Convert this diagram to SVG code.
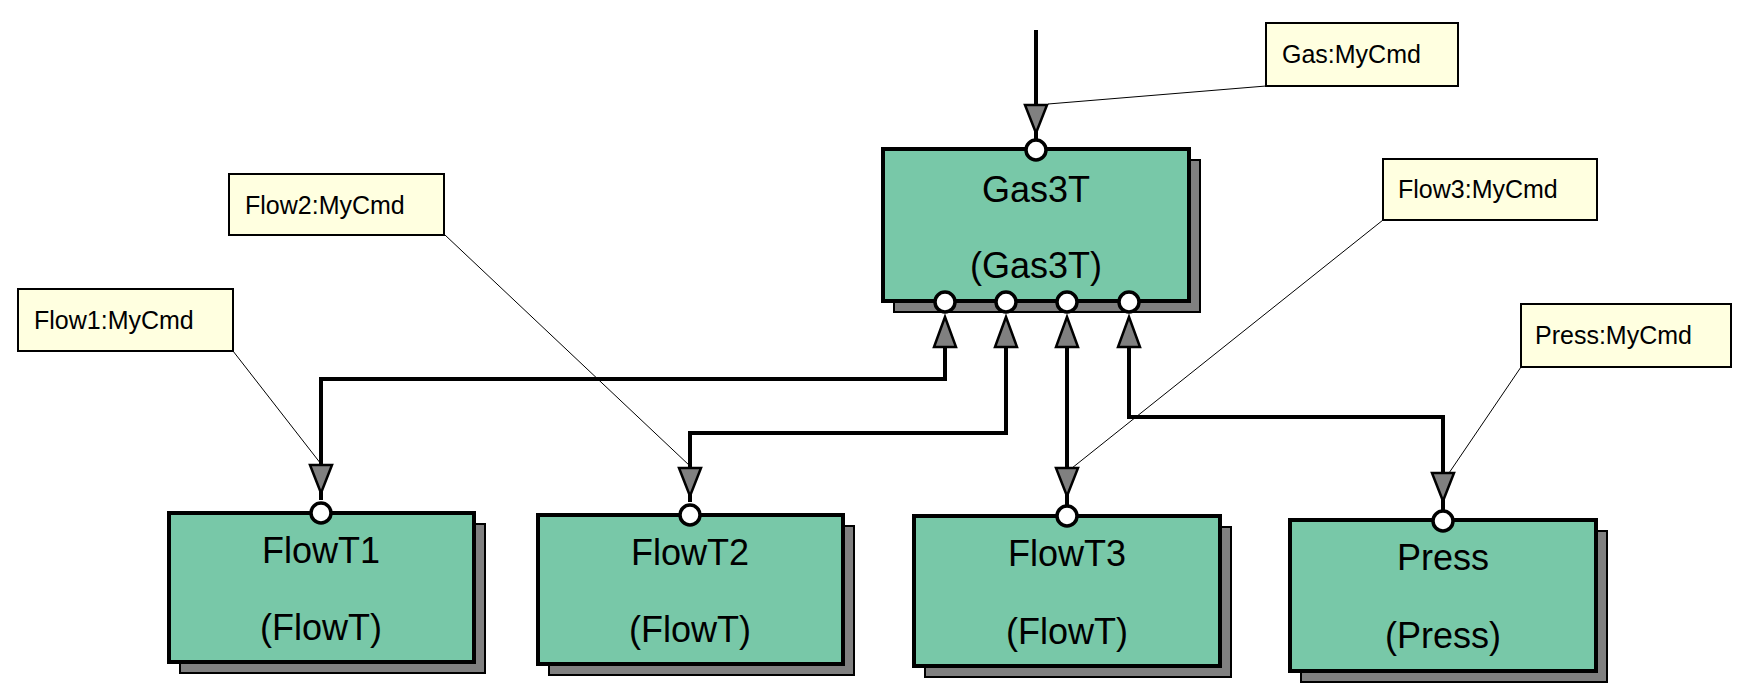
<svg xmlns="http://www.w3.org/2000/svg" width="1752" height="694" viewBox="0 0 1752 694">
<style>
.box{fill:#78c8a8;stroke:#000;stroke-width:4}
.sh{fill:#808080;stroke:#000;stroke-width:2}
.port{fill:#fff;stroke:#000;stroke-width:3.5}
.arr{fill:#808080;stroke:#000;stroke-width:2.5}
.wire{fill:none;stroke:#000;stroke-width:4}
.ln{fill:none;stroke:#000;stroke-width:1}
.lbl{fill:#ffffe0;stroke:#000;stroke-width:2}
.lt{font-family:"Liberation Sans",Arial,sans-serif;font-size:25px;fill:#000}
.nt{font-family:"Liberation Sans",Arial,sans-serif;font-size:36px;fill:#000;text-anchor:middle}
</style>
<rect width="1752" height="694" fill="#fff"/>
<g id="connectors">
<path class="wire" d="M1036 30V140"/>
<path class="wire" d="M945 330V379H321V500"/>
<path class="wire" d="M1006 330V433H690V502"/>
<path class="wire" d="M1067 330V505"/>
<path class="wire" d="M1129 330V417H1443V510"/>
<path class="ln" d="M1048 104L1266 86"/>
<path class="ln" d="M233 351L321 464"/>
<path class="ln" d="M445 235L690 466"/>
<path class="ln" d="M1383 220L1072 468"/>
<path class="ln" d="M1521 367L1449 473"/>
<path class="arr" d="M1025 105H1047L1036 133Z"/>
<path class="arr" d="M310 465H332L321 493Z"/>
<path class="arr" d="M679 468H701L690 496Z"/>
<path class="arr" d="M1056 468H1078L1067 496Z"/>
<path class="arr" d="M1432 473H1454L1443 501Z"/>
<path class="arr" d="M934 347H956L945 317Z"/>
<path class="arr" d="M995 347H1017L1006 317Z"/>
<path class="arr" d="M1056 347H1078L1067 317Z"/>
<path class="arr" d="M1118 347H1140L1129 317Z"/>
</g>
<g id="Gas3T">
<rect class="sh" x="894" y="160" width="306" height="152"/>
<rect class="box" x="883" y="149" width="306" height="152"/>
<text class="nt" x="1036" y="202">Gas3T</text>
<text class="nt" x="1036" y="278">(Gas3T)</text>
<circle class="port" cx="1036" cy="150" r="10"/>
<circle class="port" cx="945" cy="302" r="10"/>
<circle class="port" cx="1006" cy="302" r="10"/>
<circle class="port" cx="1067" cy="302" r="10"/>
<circle class="port" cx="1129" cy="302" r="10"/>
</g>
<g id="FlowT1">
<rect class="sh" x="180" y="524" width="305" height="149"/>
<rect class="box" x="169" y="513" width="305" height="149"/>
<text class="nt" x="321" y="563">FlowT1</text>
<text class="nt" x="321" y="640">(FlowT)</text>
<circle class="port" cx="321" cy="513" r="10"/>
</g>
<g id="FlowT2">
<rect class="sh" x="549" y="526" width="305" height="149"/>
<rect class="box" x="538" y="515" width="305" height="149"/>
<text class="nt" x="690" y="565">FlowT2</text>
<text class="nt" x="690" y="642">(FlowT)</text>
<circle class="port" cx="690" cy="515" r="10"/>
</g>
<g id="FlowT3">
<rect class="sh" x="925" y="527" width="306" height="150"/>
<rect class="box" x="914" y="516" width="306" height="150"/>
<text class="nt" x="1067" y="566">FlowT3</text>
<text class="nt" x="1067" y="644">(FlowT)</text>
<circle class="port" cx="1067" cy="516" r="10"/>
</g>
<g id="Press">
<rect class="sh" x="1301" y="531" width="306" height="151"/>
<rect class="box" x="1290" y="520" width="306" height="151"/>
<text class="nt" x="1443" y="570">Press</text>
<text class="nt" x="1443" y="648">(Press)</text>
<circle class="port" cx="1443" cy="521" r="10"/>
</g>
<g id="label-gas"><rect class="lbl" x="1266" y="23" width="192" height="63"/><text class="lt" x="1282" y="63">Gas:MyCmd</text></g>
<g id="label-flow2"><rect class="lbl" x="229" y="174" width="215" height="61"/><text class="lt" x="245" y="214">Flow2:MyCmd</text></g>
<g id="label-flow1"><rect class="lbl" x="18" y="289" width="215" height="62"/><text class="lt" x="34" y="329">Flow1:MyCmd</text></g>
<g id="label-flow3"><rect class="lbl" x="1383" y="159" width="214" height="61"/><text class="lt" x="1398" y="198">Flow3:MyCmd</text></g>
<g id="label-press"><rect class="lbl" x="1521" y="304" width="210" height="63"/><text class="lt" x="1535" y="344">Press:MyCmd</text></g>
</svg>
